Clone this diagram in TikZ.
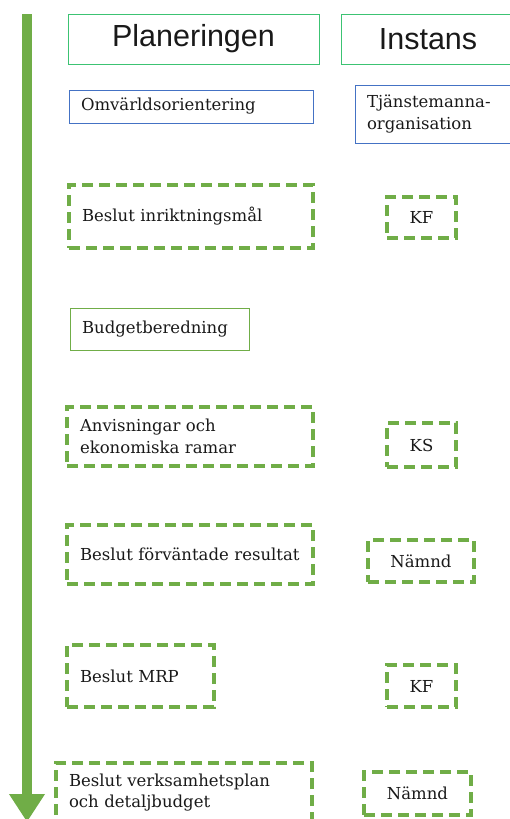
\documentclass[tikz,border=0pt]{standalone}
\usepackage{fontspec}
\setmainfont{DejaVu Serif}
\newfontfamily\headfont{Liberation Sans}
\usetikzlibrary{arrows.meta, positioning}
\definecolor{plangreen}{RGB}{112,173,71}
\definecolor{headgreen}{RGB}{60,195,115}
\definecolor{planblue}{RGB}{68,114,196}

\begin{document}
\begin{tikzpicture}[
    x=1pt, y=-1pt,
    head/.style={
        rectangle, draw=headgreen, line width=1pt,
        minimum height=50pt, inner sep=0pt,
        font=\headfont\fontsize{30.5}{32}\selectfont, text=black!90
    },
    infobox/.style={
        rectangle, draw=planblue, line width=1pt,
        inner xsep=12pt, inner ysep=0pt, align=left,
        font=\fontsize{16.5}{21.5}\selectfont, text=black!90
    },
    stepbox/.style={
        rectangle, draw=plangreen, line width=3.5pt,
        dash pattern=on 11pt off 6pt,
        inner xsep=13pt, inner ysep=0pt, align=left,
        font=\fontsize{16.5}{21.5}\selectfont, text=black!90
    },
    orgbox/.style={
        stepbox, align=center, inner xsep=0pt
    },
    timeline/.style={
        -{Triangle[width=34pt, length=28pt]}, line width=10pt, plangreen
    }
]
\useasboundingbox (0,0) rectangle (510,819);

% tidslinje
\coordinate (start) at (27,14);
\coordinate (slut) at (27,822);
\draw[timeline] (start) -- (slut);

% rubriker
\node[head, minimum width=251pt] (planering) at (193.5,39) {Planeringen};
\node[head, minimum width=174pt] (instans) at (428,39) {Instans};

% steg
\node[infobox, text width=220pt, minimum height=33pt] (omvarld) at (191,106.5) {Omvärldsorientering};
\node[infobox, text width=160pt, minimum height=58pt] (tjanst) at (447,114) {Tjänstemanna-\\organisation};

\node[stepbox, text width=218pt, minimum height=63pt] (inriktning) at (191,216.5) {Beslut inriktningsmål};
\node[orgbox, minimum width=69pt, minimum height=41pt] (kf1) at (421.5,217.5) {KF};

\node[infobox, draw=plangreen, text width=155pt, minimum height=42pt] (budget) at (159.5,329) {Budgetberedning};

\node[stepbox, text width=220pt, minimum height=59pt] (anvisning) at (190,436.5) {Anvisningar och\\ekonomiska ramar};
\node[orgbox, minimum width=69pt, minimum height=44pt] (ks) at (421.5,445) {KS};

\node[stepbox, text width=220pt, minimum height=59pt] (resultat) at (190,554.5) {Beslut förväntade resultat};
\node[orgbox, minimum width=106pt, minimum height=42pt] (namnd1) at (421,561) {Nämnd};

\node[stepbox, text width=121pt, minimum height=62pt] (mrp) at (140.5,676) {Beslut MRP};
\node[orgbox, minimum width=69pt, minimum height=42pt] (kf2) at (421.5,686) {KF};

\node[stepbox, text width=230pt, minimum height=59pt] (verksamhet) at (184,792.5) {Beslut verksamhetsplan\\och detaljbudget};
\node[orgbox, minimum width=107pt, minimum height=43pt] (namnd2) at (417.5,793.5) {Nämnd};

\end{tikzpicture}
\end{document}
